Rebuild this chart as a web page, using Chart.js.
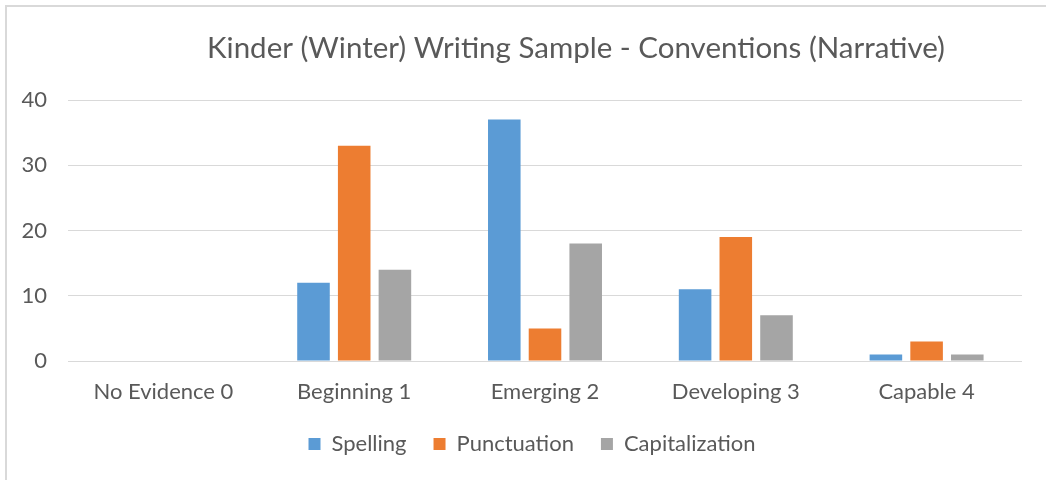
<!DOCTYPE html>
<html>
<head>
<meta charset="utf-8">
<script src="https://cdn.jsdelivr.net/npm/chart.js@4"></script>
<style>
  body { margin: 0; background: #fff; }
  #wrap { position: relative; width: 1046px; height: 480px; }
  #frame { position: absolute; left: 5px; top: 5px; right: 0; bottom: 0;
           border-left: 2px solid #d9d9d9; border-top: 2px solid #d9d9d9; }
  canvas { position: absolute; left: 0; top: 0; }
</style>
</head>
<body>
<div id="wrap">
  <div id="frame"></div>
  <canvas id="barChart" width="1046" height="480"></canvas>
</div>
<script>
var categories = ['No Evidence 0', 'Beginning 1', 'Emerging 2', 'Developing 3', 'Capable 4'];
var spelling = [0, 12, 37, 11, 1];
var punctuation = [0, 33, 5, 19, 3];
var capitalization = [0, 14, 18, 7, 1];
var yTicks = [0, 10, 20, 30, 40];
var chartTitle = 'Kinder (Winter) Writing Sample - Conventions (Narrative)';

var fontFamily = 'Lato, "Open Sans", sans-serif';
var textColor = '#595959';

// title drawn by hand so it can sit off-centre like the original
var titlePlugin = {
    id: 'offsetTitle',
    afterLayout: function (chart) {
        // nudge the legend a bit to the right, as in the original
        if (chart.legend) {
            chart.legend.left += 21;
            chart.legend.right += 21;
        }
    },
    afterDraw: function (chart) {
        var c = chart.ctx;
        c.save();
        c.font = '29.5px ' + fontFamily;
        c.fillStyle = textColor;
        c.textAlign = 'center';
        c.textBaseline = 'middle';
        c.fillText(chartTitle, 576, 48);
        c.restore();
    }
};

var ctxBar = document.getElementById('barChart').getContext('2d');
var barChart = new Chart(ctxBar, {
    type: 'bar',
    data: {
        labels: categories,
        datasets: [{
            label: 'Spelling',
            data: spelling,
            backgroundColor: '#5b9bd5'
        }, {
            label: 'Punctuation',
            data: punctuation,
            backgroundColor: '#ed7d31'
        }, {
            label: 'Capitalization',
            data: capitalization,
            backgroundColor: '#a5a5a5'
        }]
    },
    plugins: [titlePlugin],
    options: {
        responsive: false,
        animation: false,
        categoryPercentage: 0.64,
        barPercentage: 0.8,
        layout: {
            padding: { left: 0, right: 24, top: 100, bottom: 15 }
        },
        scales: {
            x: {
                afterFit: function (axis) {
                    axis.height = 45;
                },
                grid: { display: false, drawTicks: false },
                border: { display: false },
                ticks: {
                    color: textColor,
                    font: { family: fontFamily, size: 22 },
                    padding: 18
                }
            },
            y: {
                min: 0,
                max: 40,
                afterBuildTicks: function (axis) {
                    axis.ticks = yTicks.map(function (v) { return { value: v }; });
                },
                afterFit: function (axis) {
                    axis.width = 68;
                },
                grid: { color: '#d9d9d9', drawTicks: false },
                border: { display: false },
                ticks: {
                    color: textColor,
                    font: { family: fontFamily, size: 22 },
                    padding: 21
                }
            }
        },
        plugins: {
            title: { display: false },
            legend: {
                position: 'bottom',
                labels: {
                    color: textColor,
                    font: { family: fontFamily, size: 22 },
                    boxWidth: 12,
                    boxHeight: 12,
                    padding: 27
                }
            },
            tooltip: { enabled: false }
        }
    }
});
</script>
</body>
</html>
